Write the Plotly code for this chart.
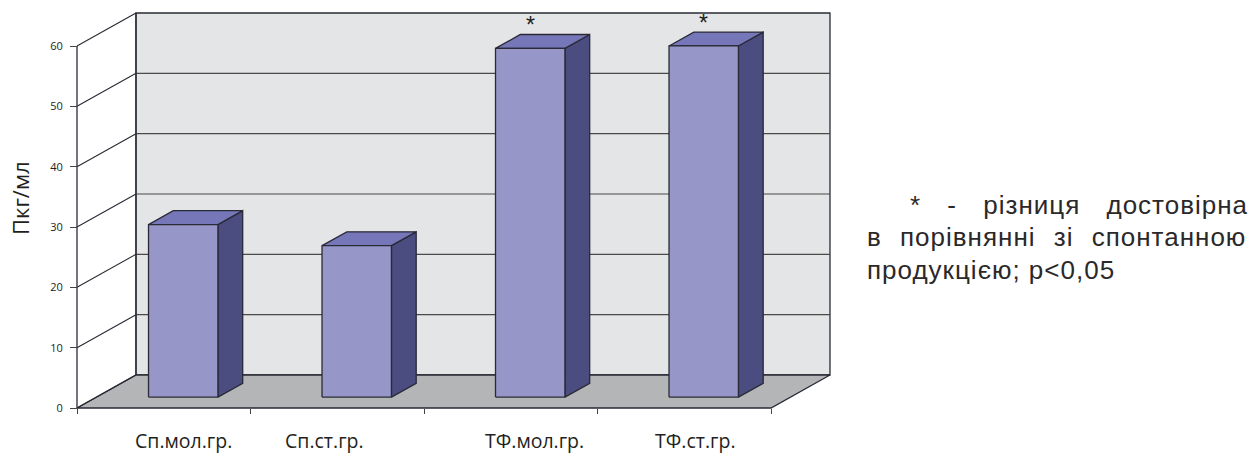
import plotly.graph_objects as go

# ---- data ----
categories = ["Сп.мол.гр.", "Сп.ст.гр.", "ТФ.мол.гр.", "ТФ.ст.гр."]
values = [28.6, 25.1, 57.8, 58.2]          # пкг/мл
significant = [False, False, True, True]   # marked with "*"
y_ticks = [0, 10, 20, 30, 40, 50, 60]
y_title = "Пкг/мл"
note_lines = ["* - різниця достовірна", "в порівнянні зі спонтанною", "продукцією; p<0,05"]

# ---- figure geometry ----
W, H = 1250, 454
X_RANGE = [-0.4438, 6.7608]     # category units across the whole canvas
Y_RANGE = [-7.624, 67.624]      # value units across the whole canvas
DX, DY = 0.34, 5.47             # depth vector of the pseudo-3D box (data units)
Y_MAX = 60
N = len(categories)
BAR_W = 0.4
F0, F1 = 0.33, 0.75             # front / back depth fraction of the bars
label_x = [0.611, 1.4265, 2.634, 3.562]

# ---- colours ----
WALL = "#e4e5e7"
FLOOR = "#b4b5b7"
FRONT = "#9697c8"
TOP = "#7677b8"
SIDE = "#4b4c80"
EDGE = "#2a2a36"
GRID = "#4a4a4a"
TEXT = "#231f20"

fig = go.Figure()


def poly(xs, ys, fill, width=1.3, color=EDGE):
    fig.add_trace(go.Scatter(
        x=list(xs) + [xs[0]], y=list(ys) + [ys[0]],
        mode="lines", fill="toself", fillcolor=fill,
        line=dict(color=color, width=width),
        hoverinfo="skip", showlegend=False))


def lines(xs, ys, color=GRID, width=1.1):
    fig.add_trace(go.Scatter(
        x=xs, y=ys, mode="lines", line=dict(color=color, width=width),
        hoverinfo="skip", showlegend=False))


# back wall
poly([DX, DX + N, DX + N, DX], [DY, DY, Y_MAX + DY, Y_MAX + DY], WALL)
# floor
poly([0, N, N + DX, DX], [0, 0, DY, DY], FLOOR)

# gridlines on the back wall
gx, gy = [], []
for t in y_ticks[1:-1]:
    gx += [DX, DX + N, None]
    gy += [t + DY, t + DY, None]
lines(gx, gy)

# left side wall: slanted gridlines and front edge (value axis line)
sx, sy = [], []
for t in y_ticks:
    sx += [0, DX, None]
    sy += [t, t + DY, None]
lines(sx, sy, color=EDGE, width=1.1)
lines([0, 0], [0, Y_MAX], color=EDGE, width=1.3)
lines([DX, DX], [DY, Y_MAX + DY], color=EDGE, width=1.3)

# bars
ddx, ddy = (F1 - F0) * DX, (F1 - F0) * DY
for i, v in enumerate(values):
    xc = i + 0.5
    xl = xc - BAR_W / 2 + F0 * DX
    xr = xc + BAR_W / 2 + F0 * DX
    yb = F0 * DY
    yt = v + F0 * DY
    poly([xr, xr + ddx, xr + ddx, xr], [yb, yb + ddy, yt + ddy, yt], SIDE)
    poly([xl, xr, xr + ddx, xl + ddx], [yt, yt, yt + ddy, yt + ddy], TOP)
    poly([xl, xr, xr, xl], [yb, yb, yt, yt], FRONT)
    if significant[i]:
        fig.add_annotation(x=(xl + xr) / 2, y=yt, xref="x", yref="y",
                           text="*", showarrow=False, yanchor="bottom", yshift=8,
                           font=dict(family="Liberation Sans", size=23, color=TEXT))

# category labels
for lx, name in zip(label_x, categories):
    fig.add_annotation(x=lx, y=(H - 440) / H, xref="x", yref="paper",
                       text=name, showarrow=False, xanchor="center", yanchor="middle",
                       font=dict(family="Open Sans", size=19.5, color=TEXT))

# value-axis title
fig.add_annotation(x=20 / W, y=(H - 198) / H, xref="paper", yref="paper",
                   text=y_title, textangle=-90, showarrow=False,
                   xanchor="center", yanchor="middle",
                   font=dict(family="Open Sans", size=22, color=TEXT))

# footnote on the right
note_pos = [(908, 205, 18), (865, 237, 10), (865, 270, 0)]
for (px, py, ws), line in zip(note_pos, note_lines):
    fig.add_annotation(x=px / W, y=(H - py) / H, xref="paper", yref="paper",
                       text=f'<span style="letter-spacing:1px;word-spacing:{ws}px">{line}</span>',
                       showarrow=False, xanchor="left", yanchor="middle",
                       font=dict(family="Liberation Sans", size=26, color="#2b2829"))

fig.update_layout(
    width=W, height=H, margin=dict(l=0, r=0, t=0, b=0),
    paper_bgcolor="white", plot_bgcolor="white",
    xaxis=dict(range=X_RANGE, anchor="free", position=46 / H,
               tickmode="array", tickvals=list(range(N + 1)),
               ticks="outside", ticklen=5, tickcolor="#444", tickwidth=1,
               showticklabels=False, showgrid=False, zeroline=False, showline=False,
               fixedrange=True),
    yaxis=dict(range=Y_RANGE, anchor="free", position=77 / W,
               tickmode="array", tickvals=y_ticks,
               ticks="outside", ticklen=7, tickcolor="#444", tickwidth=1,
               ticklabelstandoff=5,
               tickfont=dict(family="Open Sans", size=11, color=TEXT),
               showgrid=False, zeroline=False, showline=False, fixedrange=True),
)

fig.write_html("out.html")
